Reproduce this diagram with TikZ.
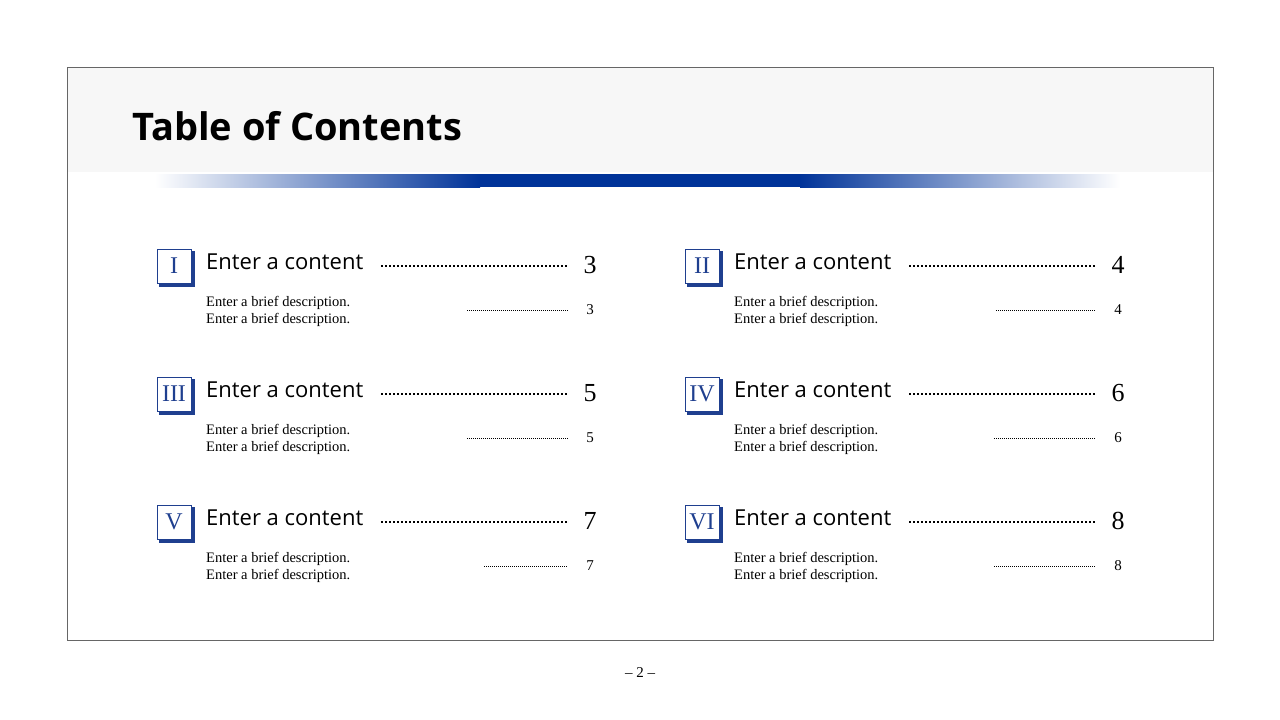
\documentclass[tikz,border=0pt]{standalone}
\usepackage{fontspec}
\setmainfont{Liberation Serif}
\newfontfamily\hsans{Open Sans}
\definecolor{dblue}{HTML}{003399}
\definecolor{bxblue}{HTML}{1F3F8F}
\begin{document}
\begin{tikzpicture}[x=1pt,y=-1pt,
  numbox/.style={draw=bxblue,line width=0.8pt,fill=white,minimum width=34pt,minimum height=34pt,inner sep=0pt,font=\fontsize{24}{24}\selectfont,text=bxblue},
  head/.style={anchor=west,font=\hsans\fontsize{22}{22}\selectfont,inner sep=0pt},
  desc/.style={anchor=north west,font=\fontsize{14.5}{17}\selectfont,inner sep=0pt,align=left},
  bignum/.style={font=\fontsize{26}{26}\selectfont,inner sep=0pt},
  smallnum/.style={font=\fontsize{15}{15}\selectfont,inner sep=0pt},
  bigdots/.style={line width=2pt,dash pattern=on 2pt off 2pt},
  smalldots/.style={line width=0.8pt,dash pattern=on 1pt off 1pt}]
\useasboundingbox (0,0) rectangle (1280,720);
\fill[white] (0,0) rectangle (1280,720);
\fill[black!3] (67,67) rectangle (1213,172);
\draw[black!60,line width=0.8pt] (67,67) rectangle (1213,640);
\fill[dblue] (479,174) rectangle (801,187);
\shade[left color=white,right color=dblue] (155,174) rectangle (480,187);
\shade[left color=dblue,right color=white] (800,174) rectangle (1120,187);
\node[anchor=west,inner sep=0pt,font=\hsans\bfseries\fontsize{38}{38}\selectfont] (title) at (132,126) {Table of Contents};
\foreach \r/\n/\a/\nm/\sx [count=\i] in {0/I/0/3/467,0/II/528/4/468,128/III/0/5/467,128/IV/528/6/466,256/V/0/7/484,256/VI/528/8/466}{
  \begin{scope}[shift={(\a,\r)}]
  \fill[bxblue] (159,251) rectangle (195,287);
  \node[numbox] (b\i) at (174,266) {\n};
  \node[head] (h\i) at (206,262) {Enter a content};
  \node[bignum] (n\i) at (590,265) {\nm};
  \coordinate (ds\i) at (381,266);
  \coordinate (de\i) at (568,266);
  \draw[bigdots] (ds\i) -- (de\i);
  \node[desc] (d\i) at (206,296) {Enter a brief description.\\Enter a brief description.};
  \node[smallnum] (s\i) at (590,310) {\nm};
  \coordinate (ss\i) at (\sx,310);
  \coordinate (se\i) at (568,310);
  \draw[smalldots] (ss\i) -- (se\i);
  \end{scope}
}
\node[font=\fontsize{15}{15}\selectfont] (pg) at (640,673) {– 2 –};
\end{tikzpicture}
\end{document}
